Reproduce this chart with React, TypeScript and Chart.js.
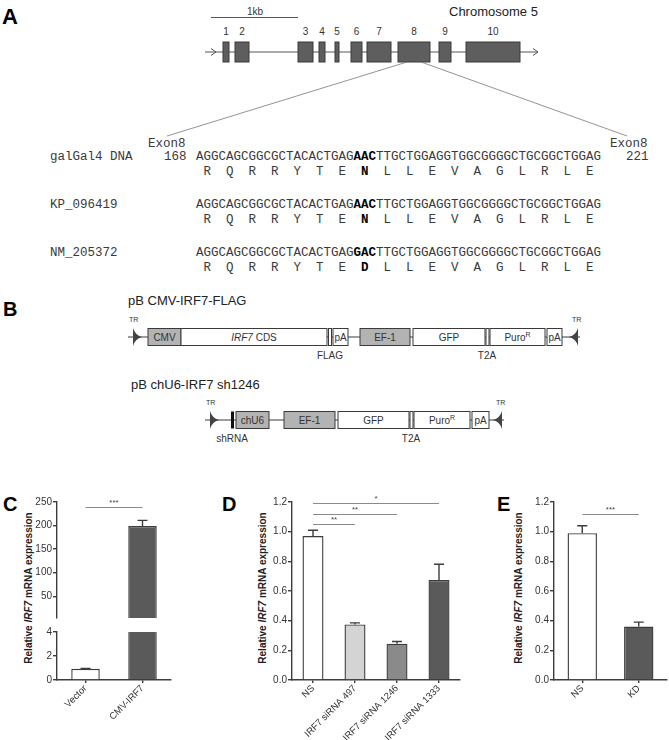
import React, { useEffect, useRef } from 'react';
import { Chart, registerables } from 'chart.js';

Chart.register(...registerables);
Chart.defaults.font.family = '"Liberation Sans", Arial, sans-serif';
Chart.defaults.color = '#333';

// ---------- DATA ----------
const C_CATEGORIES = ['Vector', 'CMV-IRF7'];
const C_VALUES = [0.93, 199];
const C_ERRORS = [0.04, 12];
const C_TOP_TICKS = [50, 100, 150, 200, 250];
const C_BOTTOM_TICKS = [0, 1, 2, 3, 4];
const C_COLORS = ['#ffffff', '#5a5a5a'];
const C_SIG = [{ from: 0, to: 1, y: 240, label: '***' }];

const D_CATEGORIES = ['NS', 'IRF7 siRNA 497', 'IRF7 siRNA 1246', 'IRF7 siRNA 1333'];
const D_VALUES = [0.97, 0.375, 0.245, 0.675];
const D_ERRORS = [0.04, 0.01, 0.015, 0.105];
const D_COLORS = ['#ffffff', '#d4d4d4', '#8a8a8a', '#5a5a5a'];
const D_SIG = [
  { from: 0, to: 1, y: 1.05, label: '**' },
  { from: 0, to: 2, y: 1.12, label: '**' },
  { from: 0, to: 3, y: 1.19, label: '*' },
];

const E_CATEGORIES = ['NS', 'KD'];
const E_VALUES = [0.99, 0.36];
const E_ERRORS = [0.05, 0.03];
const E_COLORS = ['#ffffff', '#5a5a5a'];
const E_SIG = [{ from: 0, to: 1, y: 1.12, label: '***' }];

const RATIO_TICKS = [0, 0.2, 0.4, 0.6, 0.8, 1.0, 1.2];

// ---------- styling ----------
const AX = '#3c3c3c';
const TICK_FONT = { size: 10 };
const XTICK_FONT = { size: 9.5 };

const annotPlugin = {
  id: 'annot',
  afterDatasetsDraw(chart: any, _args: any, opts: any) {
    const { ctx } = chart;
    const ys = chart.scales.y;
    const xs = chart.scales.x;
    const meta = chart.getDatasetMeta(0);
    const data = chart.data.datasets[0].data;
    const errs = opts.errors || [];
    ctx.save();
    ctx.strokeStyle = AX;
    ctx.lineWidth = 1.4;
    meta.data.forEach((bar: any, i: number) => {
      const v = data[i];
      const e = errs[i];
      if (e == null) return;
      if (v < ys.min || v + e > ys.max) return;
      const y0 = ys.getPixelForValue(v);
      const y1 = ys.getPixelForValue(v + e);
      const cap = opts.cap || 5;
      ctx.beginPath();
      ctx.moveTo(bar.x, y0);
      ctx.lineTo(bar.x, y1);
      ctx.moveTo(bar.x - cap, y1);
      ctx.lineTo(bar.x + cap, y1);
      ctx.stroke();
    });
    (opts.sig || []).forEach((s: any) => {
      const x0 = xs.getPixelForValue(s.from);
      const x1 = xs.getPixelForValue(s.to);
      const y = Math.round(ys.getPixelForValue(s.y)) + 0.5;
      ctx.strokeStyle = '#8a8a8a';
      ctx.lineWidth = 1;
      ctx.beginPath();
      ctx.moveTo(x0, y);
      ctx.lineTo(x1, y);
      ctx.stroke();
      ctx.fillStyle = '#444';
      ctx.font = '8px "Liberation Sans", Arial, sans-serif';
      ctx.textAlign = 'center';
      ctx.textBaseline = 'bottom';
      ctx.fillText(s.label, (x0 + x1) / 2, y - 1);
    });
    ctx.restore();
  },
};

function makeConfig(p: {
  labels: string[];
  values: number[];
  colors: string[];
  errors: number[];
  sig: any[];
  ticks: number[];
  min: number;
  max: number;
  decimals: number;
  yWidth: number;
  xHeight: number;
  showX: boolean;
  padding: any;
  barPct: number;
}) {
  return {
    type: 'bar',
    data: {
      labels: p.labels,
      datasets: [
        {
          data: p.values,
          backgroundColor: p.colors,
          borderColor: AX,
          borderWidth: 1.4,
          barPercentage: p.barPct,
          categoryPercentage: 1,
        },
      ],
    },
    plugins: [annotPlugin],
    options: {
      responsive: false,
      maintainAspectRatio: false,
      animation: false,
      layout: { padding: p.padding },
      plugins: {
        legend: { display: false },
        tooltip: { enabled: false },
        annot: { errors: p.errors, sig: p.sig, cap: 5 },
      },
      scales: {
        x: {
          display: p.showX,
          grid: { drawOnChartArea: false, offset: false, tickLength: 3, color: AX, lineWidth: 1.4 },
          border: { display: true, color: AX, width: 1.4 },
          ticks: {
            font: XTICK_FONT,
            color: '#333',
            minRotation: 45,
            maxRotation: 45,
            autoSkip: false,
            padding: 0,
          },
          afterFit: (s: any) => {
            s.height = p.xHeight;
          },
        },
        y: {
          min: p.min,
          max: p.max,
          afterBuildTicks: (s: any) => {
            s.ticks = p.ticks.map((v) => ({ value: v }));
          },
          grid: { drawOnChartArea: false, tickLength: 4, color: AX, lineWidth: 1.4 },
          border: { display: true, color: AX, width: 1.4 },
          ticks: {
            font: TICK_FONT,
            color: '#333',
            padding: 1,
            callback: (v: any) => Number(v).toFixed(p.decimals),
          },
          afterFit: (s: any) => {
            s.width = p.yWidth;
          },
        },
      },
    },
  };
}

function ChartCanvas({ left, top, width, height, config }: any) {
  const ref = useRef<HTMLCanvasElement | null>(null);
  useEffect(() => {
    const chart = new Chart(ref.current as HTMLCanvasElement, config() as any);
    return () => chart.destroy();
  }, []);
  return (
    <canvas
      ref={ref}
      width={width}
      height={height}
      style={{ position: 'absolute', left, top, width, height }}
    />
  );
}

// ---------- panel A / B drawing constants ----------
const EXONS: [number, number][] = [
  [223, 229], [235, 249], [298, 313], [319, 325], [335, 339],
  [351, 362], [367, 391], [398, 430], [439, 451], [466, 520],
];
const SEQ = ['AGGCAGCGGCGCTACACTGAG', 'TTGCTGGAGGTGGCGGGGCTGCGGCTGGAG'];
const AA1 = ['R', 'Q', 'R', 'R', 'Y', 'T', 'E', 'N', 'L', 'L', 'E', 'V', 'A', 'G', 'L', 'R', 'L', 'E'];
const AA3 = ['R', 'Q', 'R', 'R', 'Y', 'T', 'E', 'D', 'L', 'L', 'E', 'V', 'A', 'G', 'L', 'R', 'L', 'E'];
const PITCH = 7.5;
const SEQ_X = 196;
const MONO = '"Liberation Mono", "Courier New", monospace';
const SANS = '"Liberation Sans", Arial, sans-serif';

function SeqRow({ y, codon, aa, boldIdx }: { y: number; codon: string; aa: string[]; boldIdx: number }) {
  return (
    <g fontFamily={MONO} fontSize={12.5} fill="#3a3a3a">
      <text x={SEQ_X} y={y}>
        {SEQ[0]}
        <tspan fontWeight="bold" fill="#000">{codon}</tspan>
        {SEQ[1]}
      </text>
      {aa.map((a, i) => (
        <text
          key={i}
          x={SEQ_X + (3 * i + 1.5) * PITCH}
          y={y + 15}
          textAnchor="middle"
          fontWeight={i === boldIdx ? 'bold' : 'normal'}
          fill={i === boldIdx ? '#000' : '#3a3a3a'}
        >
          {a}
        </text>
      ))}
    </g>
  );
}

function Box({ x0, x1, y, h, fill, children }: any) {
  return (
    <g>
      <rect x={x0} y={y - h / 2} width={x1 - x0} height={h} fill={fill} stroke="#3a3a3a" strokeWidth={1} />
      {children ? (
        <text x={(x0 + x1) / 2} y={y + 3.5} textAnchor="middle" fontSize={10} fontFamily={SANS} fill="#333">
          {children}
        </text>
      ) : null}
    </g>
  );
}

function DoubleBar({ x, y, h }: any) {
  return <rect x={x} y={y - h / 2} width={3} height={h} fill="#fff" stroke="#3a3a3a" strokeWidth={1} />;
}

function TriRight({ x, y }: any) {
  return <path d={`M${x},${y - 9} Q${x + 2},${y - 2} ${x + 9},${y} Q${x + 2},${y + 2} ${x},${y + 9} Z`} fill="#444" />;
}
function TriLeft({ x, y }: any) {
  return <path d={`M${x},${y - 9} Q${x - 2},${y - 2} ${x - 9},${y} Q${x - 2},${y + 2} ${x},${y + 9} Z`} fill="#444" />;
}

function Puro() {
  return (
    <>
      Puro<tspan fontSize={7} dy={-4}>R</tspan>
    </>
  );
}

function Diagrams() {
  const y1 = 337;
  const y2 = 420;
  const bh = 17;
  return (
    <svg width={669} height={740} style={{ position: 'absolute', left: 0, top: 0 }}>
      {/* Panel letters */}
      <g fontFamily={SANS} fontWeight="bold" fill="#000">
        <text x={2} y={24} fontSize={22}>A</text>
        <text x={3} y={316} fontSize={20}>B</text>
        <text x={3} y={511} fontSize={20}>C</text>
        <text x={222} y={511} fontSize={20}>D</text>
        <text x={497} y={511} fontSize={20}>E</text>
      </g>

      {/* Panel A: gene structure */}
      <line x1={211} y1={17.5} x2={298} y2={17.5} stroke="#555" strokeWidth={1} />
      <text x={255} y={15} textAnchor="middle" fontSize={10} fontFamily={SANS} fill="#333">1kb</text>
      <text x={449} y={16} fontSize={13} fontFamily={SANS} fill="#222">Chromosome 5</text>
      <line x1={205} y1={52} x2={538} y2={52} stroke="#555" strokeWidth={1.2} />
      <polyline points="211,48.5 216,52 211,55.5" fill="none" stroke="#555" strokeWidth={1} />
      <polyline points="533,48.5 538,52 533,55.5" fill="none" stroke="#555" strokeWidth={1} />
      {EXONS.map(([a, b], i) => (
        <g key={i}>
          <rect x={a} y={42} width={b - a} height={20} fill="#5e5e5e" stroke="#3a3a3a" strokeWidth={1} />
          <text x={(a + b) / 2} y={35} textAnchor="middle" fontSize={10} fontFamily={SANS} fill="#333">
            {i + 1}
          </text>
        </g>
      ))}
      <line x1={407} y1={62} x2={167} y2={136} stroke="#777" strokeWidth={0.8} />
      <line x1={421} y1={62} x2={627} y2={136} stroke="#777" strokeWidth={0.8} />

      {/* Sequences */}
      <g fontFamily={MONO} fontSize={12.5} fill="#3a3a3a">
        <text x={148} y={147}>Exon8</text>
        <text x={610} y={147}>Exon8</text>
        <text x={50} y={160}>galGal4 DNA</text>
        <text x={164} y={160}>168</text>
        <text x={626} y={160}>221</text>
        <text x={50} y={208}>KP_096419</text>
        <text x={50} y={256}>NM_205372</text>
      </g>
      <SeqRow y={160} codon="AAC" aa={AA1} boldIdx={7} />
      <SeqRow y={208} codon="AAC" aa={AA1} boldIdx={7} />
      <SeqRow y={256} codon="GAC" aa={AA3} boldIdx={7} />

      {/* Panel B: construct 1 */}
      <text x={128} y={305} fontSize={13} fontFamily={SANS} fill="#222">pB CMV-IRF7-FLAG</text>
      <text x={129} y={322} fontSize={7} fontFamily={SANS} fill="#333">TR</text>
      <text x={572} y={322} fontSize={7} fontFamily={SANS} fill="#333">TR</text>
      <line x1={128} y1={y1} x2={580} y2={y1} stroke="#3a3a3a" strokeWidth={1} />
      <TriRight x={133} y={y1} />
      <TriLeft x={578} y={y1} />
      <Box x0={148} x1={181} y={y1} h={bh} fill="#b3b3b3">CMV</Box>
      <Box x0={181} x1={327} y={y1} h={bh} fill="#fff">
        <tspan fontStyle="italic">IRF7</tspan> CDS
      </Box>
      <DoubleBar x={328.5} y={y1} h={bh} />
      <Box x0={333} x1={348} y={y1} h={bh} fill="#fff">pA</Box>
      <Box x0={360} x1={410} y={y1} h={bh} fill="#b3b3b3">EF-1</Box>
      <Box x0={413} x1={485} y={y1} h={bh} fill="#fff">GFP</Box>
      <DoubleBar x={486} y={y1} h={bh} />
      <Box x0={490} x1={545} y={y1} h={bh} fill="#fff"><Puro /></Box>
      <Box x0={547} x1={562} y={y1} h={bh} fill="#fff">pA</Box>
      <g fontSize={10} fontFamily={SANS} fill="#333" textAnchor="middle">
        <text x={330} y={359}>FLAG</text>
        <text x={487} y={359}>T2A</text>
      </g>

      {/* Panel B: construct 2 */}
      <text x={131} y={389} fontSize={13} fontFamily={SANS} fill="#222">pB chU6-IRF7 sh1246</text>
      <text x={206} y={405} fontSize={7} fontFamily={SANS} fill="#333">TR</text>
      <text x={496} y={405} fontSize={7} fontFamily={SANS} fill="#333">TR</text>
      <line x1={205} y1={y2} x2={504} y2={y2} stroke="#3a3a3a" strokeWidth={1} />
      <TriRight x={210} y={y2} />
      <TriLeft x={502} y={y2} />
      <rect x={231} y={y2 - bh / 2} width={3} height={bh} fill="#111" />
      <Box x0={236} x1={269} y={y2} h={bh} fill="#b3b3b3">chU6</Box>
      <Box x0={284} x1={335} y={y2} h={bh} fill="#b3b3b3">EF-1</Box>
      <Box x0={338} x1={409} y={y2} h={bh} fill="#fff">GFP</Box>
      <DoubleBar x={410} y={y2} h={bh} />
      <Box x0={414} x1={470} y={y2} h={bh} fill="#fff"><Puro /></Box>
      <Box x0={472} x1={489} y={y2} h={bh} fill="#fff">pA</Box>
      <g fontSize={10} fontFamily={SANS} fill="#333" textAnchor="middle">
        <text x={232} y={442}>shRNA</text>
        <text x={411} y={442}>T2A</text>
      </g>

      {/* y-axis titles */}
      {[
        [32, 588],
        [266, 588],
        [522, 588],
      ].map(([x, y], i) => (
        <text
          key={i}
          transform={`translate(${x},${y}) rotate(-90)`}
          textAnchor="middle"
          fontSize={10}
          fontWeight="bold"
          fontFamily={SANS}
          fill="#222"
        >
          Relative <tspan fontStyle="italic">IRF7</tspan> mRNA expression
        </text>
      ))}
    </svg>
  );
}

export default function App() {
  return (
    <div style={{ position: 'absolute', left: 0, top: 0, width: 669, height: 740, background: '#fff', overflow: 'hidden' }}>
      <Diagrams />
      {/* Panel C: top segment */}
      <ChartCanvas
        left={20}
        top={487}
        width={160}
        height={138}
        config={() =>
          makeConfig({
            labels: C_CATEGORIES,
            values: C_VALUES,
            colors: C_COLORS,
            errors: C_ERRORS,
            sig: C_SIG,
            ticks: C_TOP_TICKS,
            min: 4,
            max: 250,
            decimals: 0,
            yWidth: 37,
            xHeight: 0,
            showX: false,
            padding: { top: 15, right: 9, bottom: 3, left: 0 },
            barPct: 0.5,
          })
        }
      />
      {/* Panel C: bottom segment */}
      <ChartCanvas
        left={20}
        top={625}
        width={160}
        height={115}
        config={() =>
          makeConfig({
            labels: C_CATEGORIES,
            values: C_VALUES,
            colors: C_COLORS,
            errors: C_ERRORS,
            sig: [],
            ticks: C_BOTTOM_TICKS,
            min: 0,
            max: 4,
            decimals: 0,
            yWidth: 37,
            xHeight: 60,
            showX: true,
            padding: { top: 7, right: 9, bottom: 0, left: 0 },
            barPct: 0.5,
          })
        }
      />
      {/* Panel D */}
      <ChartCanvas
        left={240}
        top={487}
        width={230}
        height={253}
        config={() =>
          makeConfig({
            labels: D_CATEGORIES,
            values: D_VALUES,
            colors: D_COLORS,
            errors: D_ERRORS,
            sig: D_SIG,
            ticks: RATIO_TICKS,
            min: 0,
            max: 1.2,
            decimals: 1,
            yWidth: 52,
            xHeight: 60,
            showX: true,
            padding: { top: 15, right: 10, bottom: 0, left: 0 },
            barPct: 0.5,
          })
        }
      />
      {/* Panel E */}
      <ChartCanvas
        left={505}
        top={487}
        width={164}
        height={253}
        config={() =>
          makeConfig({
            labels: E_CATEGORIES,
            values: E_VALUES,
            colors: E_COLORS,
            errors: E_ERRORS,
            sig: E_SIG,
            ticks: RATIO_TICKS,
            min: 0,
            max: 1.2,
            decimals: 1,
            yWidth: 49,
            xHeight: 60,
            showX: true,
            padding: { top: 15, right: 2, bottom: 0, left: 0 },
            barPct: 0.52,
          })
        }
      />
    </div>
  );
}
